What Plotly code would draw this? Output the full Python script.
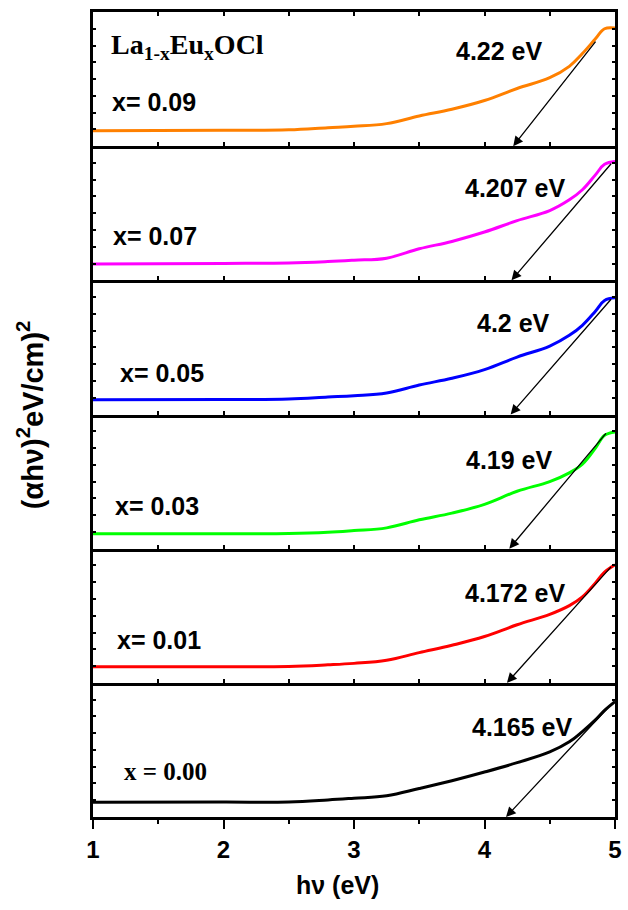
import plotly.graph_objects as go

# Photon energy grid (eV)
energy = [1.0, 2.0, 2.5, 2.8, 3.0, 3.25, 3.5, 3.75, 4.0, 4.25, 4.5, 4.65, 4.75, 4.85, 4.92, 5.0]

# (alpha h nu)^2, arbitrary units, one curve per Eu content (bottom panel first)
x000 = [0.110, 0.111, 0.112, 0.127, 0.140, 0.158, 0.212, 0.270, 0.335, 0.405, 0.485, 0.560, 0.637, 0.724, 0.795, 0.860]
x001 = [0.119, 0.120, 0.122, 0.134, 0.145, 0.168, 0.225, 0.280, 0.345, 0.433, 0.510, 0.575, 0.640, 0.744, 0.825, 0.880]
x003 = [0.112, 0.112, 0.113, 0.122, 0.135, 0.155, 0.215, 0.265, 0.330, 0.428, 0.500, 0.565, 0.630, 0.750, 0.845, 0.870]
x005 = [0.110, 0.111, 0.115, 0.130, 0.140, 0.160, 0.220, 0.270, 0.335, 0.428, 0.510, 0.590, 0.665, 0.770, 0.850, 0.870]
x007 = [0.122, 0.126, 0.130, 0.140, 0.150, 0.165, 0.235, 0.290, 0.360, 0.445, 0.520, 0.600, 0.675, 0.786, 0.865, 0.886]
x009 = [0.114, 0.118, 0.122, 0.138, 0.148, 0.168, 0.225, 0.275, 0.340, 0.430, 0.510, 0.595, 0.690, 0.800, 0.875, 0.880]

series = [x000, x001, x003, x005, x007, x009]
compositions = ["x = 0.00", "x= 0.01", "x= 0.03", "x= 0.05", "x= 0.07", "x= 0.09"]
colors = ["#000000", "#FF0000", "#00FF00", "#0000FF", "#FF00FF", "#FF8000"]

# Band-gap values from the tangent extrapolation
band_gaps = [4.165, 4.172, 4.19, 4.2, 4.207, 4.22]
gap_labels = ["4.165 eV", "4.172 eV", "4.19 eV", "4.2 eV", "4.207 eV", "4.22 eV"]

# Tangent start points (eV, arb. units)
tangent_x = [4.98, 4.98, 4.94, 4.98, 4.98, 4.86]
tangent_y = [0.85, 0.875, 0.87, 0.87, 0.88, 0.79]

# Label anchor positions inside each panel
comp_pos = [(1.22, 0.336), (1.17, 0.32), (1.15, 0.32), (1.19, 0.31), (1.14, 0.33), (1.13, 0.33)]
gap_pos = [(4.29, 0.67), (4.23, 0.67), (4.19, 0.66), (4.22, 0.68), (4.236, 0.69), (4.115, 0.71)]

SANS = "Liberation Sans, Arial, sans-serif"
SERIF = "Liberation Serif, Times New Roman, serif"
LABEL_SIZE = 25

n = len(series)
fig = go.Figure()
annotations = []

for i in range(n):
    sfx = "" if i == 0 else str(i + 1)
    xa, ya = "x" + sfx, "y" + sfx
    fig.add_trace(go.Scatter(
        x=energy, y=series[i], mode="lines",
        line=dict(color=colors[i], width=3, shape="spline", smoothing=1.1),
        xaxis=xa, yaxis=ya, showlegend=False, hoverinfo="skip",
    ))

    # tangent arrow down to the energy axis
    annotations.append(dict(
        x=band_gaps[i], y=0, xref=xa, yref=ya,
        ax=tangent_x[i], ay=tangent_y[i], axref=xa, ayref=ya,
        showarrow=True, arrowhead=2, arrowsize=1.5, arrowwidth=1.3,
        arrowcolor="black", text="", standoff=0,
    ))
    annotations.append(dict(
        x=gap_pos[i][0], y=gap_pos[i][1], xref=xa, yref=ya,
        text=gap_labels[i], showarrow=False, xanchor="center", yanchor="middle",
        font=dict(family=SANS, size=LABEL_SIZE, color="black", weight="bold"),
    ))
    comp_font = SERIF if i == 0 else SANS
    annotations.append(dict(
        x=comp_pos[i][0], y=comp_pos[i][1], xref=xa, yref=ya,
        text=compositions[i], showarrow=False, xanchor="left", yanchor="middle",
        font=dict(family=comp_font, size=LABEL_SIZE, color="black", weight="bold"),
    ))

    bottom = i == 0
    top = i == n - 1
    xaxis = dict(
        domain=[0, 1], anchor=ya, range=[1, 5],
        showline=True, linecolor="black", linewidth=3,
        mirror="ticks" if top else False,
        showgrid=False, zeroline=False,
        tickmode="linear", tick0=1, dtick=1 if bottom else 0.5,
        ticks="outside" if bottom else "inside",
        ticklen=9 if bottom else 4, tickwidth=2 if bottom else 1.5, tickcolor="black",
        showticklabels=bottom,
        tickfont=dict(family=SANS, size=24, color="black", weight="bold"),
    )
    if bottom:
        xaxis["minor"] = dict(ticks="outside", ticklen=4, tickwidth=1.5,
                              tickcolor="black", dtick=0.5, tick0=1)
    else:
        xaxis["matches"] = "x"
    yaxis = dict(
        domain=[i / n, (i + 1) / n], anchor=xa, range=[0, 1],
        showline=True, linecolor="black", linewidth=3, mirror="ticks",
        showgrid=False, zeroline=False, showticklabels=False,
        tickmode="linear", tick0=0, dtick=0.125,
        ticks="inside", ticklen=3, tickwidth=1.5, tickcolor="black",
    )
    fig.layout["xaxis" + sfx] = xaxis
    fig.layout["yaxis" + sfx] = yaxis

# compound name in the top panel
annotations.append(dict(
    x=1.12, y=0.74, xref="x6", yref="y6",
    text="La<sub>1-x</sub>Eu<sub>x</sub>OCl", showarrow=False,
    xanchor="left", yanchor="middle",
    font=dict(family=SERIF, size=28, color="black", weight="bold"),
))

# axis titles
annotations.append(dict(
    x=0.469, y=-0.0845, xref="paper", yref="paper",
    text="h\u03bd (eV)", showarrow=False, xanchor="center", yanchor="middle",
    font=dict(family=SANS, size=25, color="black", weight="bold"),
))
annotations.append(dict(
    x=-0.121, y=0.5, xref="paper", yref="paper", textangle=-90,
    text="(\u03b1h\u03bd)<sup>2</sup>eV/cm)<sup>2</sup>", showarrow=False,
    xanchor="center", yanchor="middle",
    font=dict(family=SANS, size=29, color="black", weight="bold"),
))

fig.update_layout(
    width=628, height=910,
    margin=dict(l=93, r=6, t=12, b=93),
    paper_bgcolor="white", plot_bgcolor="white",
    annotations=annotations,
)

fig.write_html("out.html")
